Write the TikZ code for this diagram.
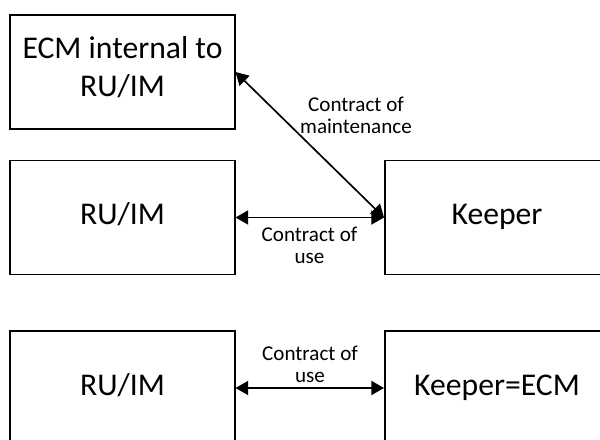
\documentclass[tikz,border=0pt]{standalone}
\usepackage{fontspec}
\setmainfont{Carlito}
\usetikzlibrary{arrows.meta}

\begin{document}
\begin{tikzpicture}
  [x=0.025cm, y=-0.025cm,
   party/.style={draw, line width=1.4pt, minimum width=5.6cm, minimum height=2.85cm,
                 align=center, font=\fontsize{22.5}{26.5}\selectfont,
                 execute at begin node=\strut, execute at end node=\strut},
   deal/.style={align=center, inner sep=0pt, font=\fontsize{15}{15.8}\selectfont},
   link/.style={line width=1.2pt, {Triangle[length=9pt,width=10pt]}-{Triangle[length=9pt,width=10pt]}}]
  \useasboundingbox (0,0) rectangle (600,440);
  \clip (0,0) rectangle (600,440);
  % top: ECM inside the RU/IM
  \node [party] (ecm)     at (122.5,72)  {ECM internal to\\RU/IM};
  \node [party] (ruim)    at (122.5,217.5) {RU/IM};
  \node [party] (keeper)  at (497,217.5) {Keeper};
  \draw [link] (ruim.east) -- (keeper.west);
  \draw [link] (ecm.east) -- (keeper.west);
  \node [deal] (use)   at (309.5,245) {Contract of\\use};
  \node [deal] (maint) at (356,115) {Contract of\\maintenance};
  % bottom: keeper is the ECM
  \node [party] (ruimb)   at (122.5,388) {RU/IM};
  \node [party] (keecm)   at (497,388)   {Keeper=ECM};
  \draw [link] (ruimb.east) -- (keecm.west);
  \node [deal] (useb)  at (310,364) {Contract of\\use};
\end{tikzpicture}
\end{document}
